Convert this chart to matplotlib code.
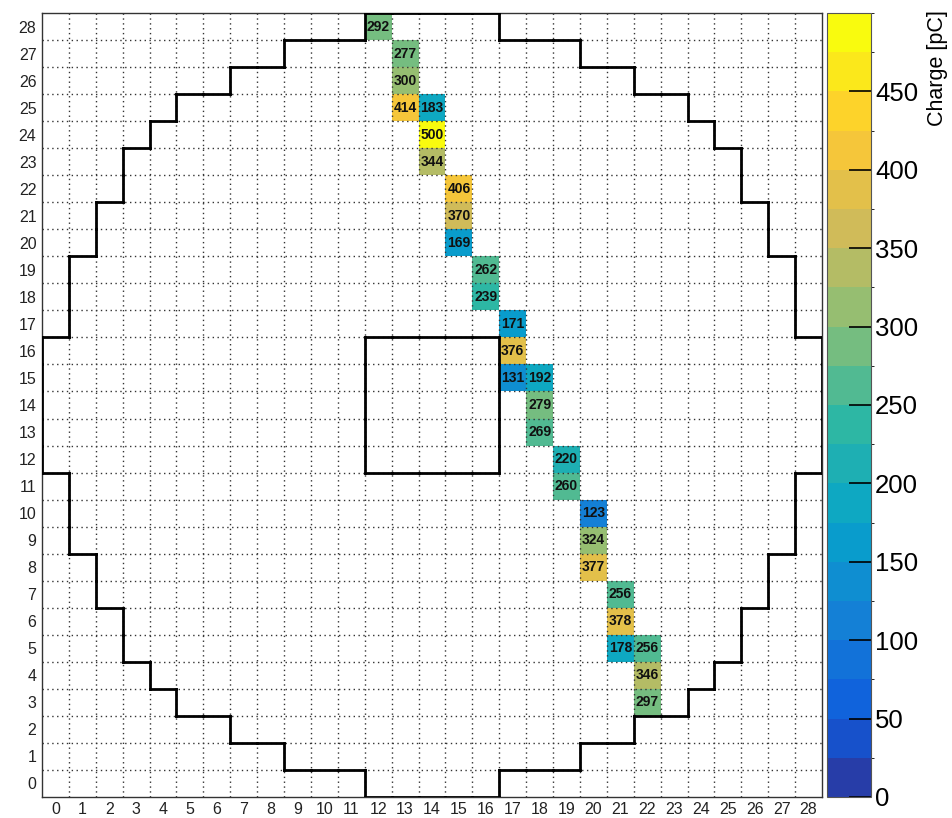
import matplotlib
matplotlib.use('Agg')
import matplotlib.pyplot as plt
import numpy as np
from matplotlib.colors import LinearSegmentedColormap, BoundaryNorm, ListedColormap
from matplotlib.collections import LineCollection

plt.rcParams['font.family'] = ['Liberation Sans', 'DejaVu Sans']

nBins = 29
#hit cells: column, row, charge in pC
hitCol = [12, 13, 13, 13, 14, 14, 14, 15, 15, 15, 16, 16, 17, 17, 17, 18, 18, 18,
          19, 19, 20, 20, 20, 21, 21, 21, 22, 22, 22]
hitRow = [28, 27, 26, 25, 25, 24, 23, 22, 21, 20, 19, 18, 17, 16, 15, 15, 14, 13,
          12, 11, 10, 9, 8, 7, 6, 5, 5, 4, 3]
hitCharge = [292, 277, 300, 414, 183, 500, 344, 406, 370, 169, 262, 239, 171, 376, 131, 192, 279, 269,
             220, 260, 123, 324, 377, 256, 378, 178, 256, 346, 297]
#first active column in each row (row 0..28), detector is symmetric about column 14
rowFirstCol = [12, 9, 7, 5, 4, 3, 3, 2, 2, 1, 1, 1, 0, 0, 0, 0, 0, 1, 1, 1, 2, 2, 3, 3, 4, 5, 7, 9, 12]
#central dead region (columns and rows)
holeCols = [12, 13, 14, 15, 16]
holeRows = [12, 13, 14, 15, 16]
zMax = 500.
nContours = 20

#ROOT kBird palette
stops = [0., .125, .25, .375, .5, .625, .75, .875, 1.]
red = [0.2082, 0.0592, 0.0780, 0.0232, 0.1802, 0.5301, 0.8186, 0.9956, 0.9764]
green = [0.1664, 0.3599, 0.5041, 0.6419, 0.7178, 0.7492, 0.7328, 0.7862, 0.9832]
blue = [0.5293, 0.8684, 0.8385, 0.7914, 0.6425, 0.4662, 0.3499, 0.1968, 0.0539]
bird = LinearSegmentedColormap.from_list('bird', list(zip(stops, zip(red, green, blue))))
bandColors = [bird((i + 0.99) / nContours) for i in range(nContours)]
cmap = ListedColormap(bandColors)
levels = np.linspace(0, zMax, nContours + 1)
norm = BoundaryNorm(levels, cmap.N)

z = np.full((nBins, nBins), np.nan)
for c, r, q in zip(hitCol, hitRow, hitCharge):
    z[r, c] = q
z = np.ma.masked_invalid(z)

#detector mask
mask = np.zeros((nBins, nBins), dtype=bool)
for r, first in enumerate(rowFirstCol):
    mask[r, first:nBins - first] = True
for r in holeRows:
    for c in holeCols:
        mask[r, c] = False

fig = plt.figure(figsize=(9.52, 8.18), dpi=100)
ax = fig.add_axes([42/952., 1 - 797/818., 780/952., 784/818.])
cax = fig.add_axes([827/952., 1 - 797/818., 44/952., 784/818.])

edges = np.arange(nBins + 1) - 0.5
mesh = ax.pcolormesh(edges, edges, z, cmap=cmap, norm=norm, zorder=1)

for g in edges[1:-1]:
    ax.axvline(g, color='#333333', lw=1.0, ls=(0, (1, 2.5)), zorder=2)
    ax.axhline(g, color='#333333', lw=1.0, ls=(0, (1, 2.5)), zorder=2)

for c, r, q in zip(hitCol, hitRow, hitCharge):
    ax.text(c, r, '%d' % q, ha='center', va='center', fontsize=10,
            fontweight='bold', color='#111111', zorder=3)

#outline of the detector from mask boundaries
padded = np.zeros((nBins + 2, nBins + 2), dtype=bool)
padded[1:-1, 1:-1] = mask
segs = []
for r in range(nBins + 1):
    for c in range(nBins):
        if padded[r, c + 1] != padded[r + 1, c + 1]:
            segs.append([(c - 0.5, r - 0.5), (c + 0.5, r - 0.5)])
for r in range(nBins):
    for c in range(nBins + 1):
        if padded[r + 1, c] != padded[r + 1, c + 1]:
            segs.append([(c - 0.5, r - 0.5), (c - 0.5, r + 0.5)])
ax.add_collection(LineCollection(segs, colors='black', linewidths=2.0, zorder=4,
                                 capstyle='projecting'))

ax.set_xlim(-0.5, nBins - 0.5)
ax.set_ylim(-0.5, nBins - 0.5)
ax.set_xticks(range(nBins))
ax.set_yticks(range(nBins))
ax.tick_params(length=0, labelsize=11.5, labelcolor='#222222')
ax.tick_params(axis='x', pad=3.5)
ax.tick_params(axis='y', pad=4)
for s in ax.spines.values():
    s.set_color('#333333')
    s.set_linewidth(1.0)

cb = fig.colorbar(mesh, cax=cax, ticks=np.arange(0, 451, 50))
cb.ax.tick_params(direction='in', length=16, width=1.2, labelsize=18.5, color='black', pad=3)
cb.outline.set_edgecolor('#555555')
cb.outline.set_linewidth(0.8)
fig.text(948/952., 1 - 10/818., 'Charge [pC]', rotation=90, ha='right', va='top', fontsize=15.5)

fig.savefig('out.png', dpi=100)
